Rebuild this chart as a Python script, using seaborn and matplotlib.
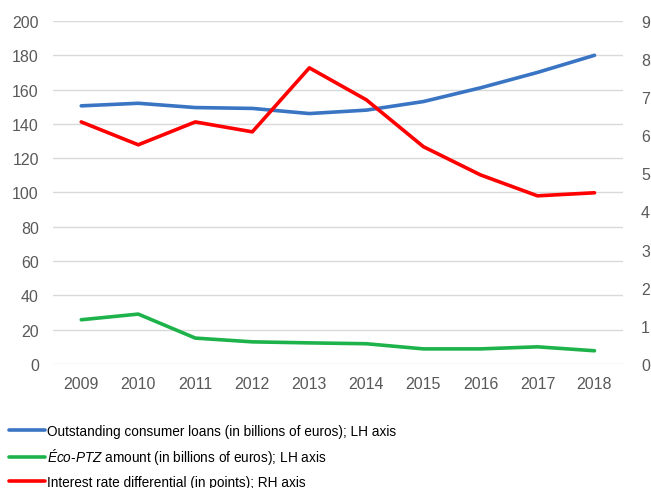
import matplotlib
matplotlib.use("Agg")
import matplotlib.pyplot as plt
import seaborn as sns
import pandas as pd

years = [2009, 2010, 2011, 2012, 2013, 2014, 2015, 2016, 2017, 2018]
consumer_loans = [150.5, 152, 149.5, 149, 146, 148, 153, 161, 170, 180]
eco_ptz = [25.7, 29, 15, 12.8, 12.2, 11.7, 8.7, 8.7, 9.9, 7.6]
rate_diff = [6.35, 5.75, 6.35, 6.09, 7.77, 6.93, 5.7, 4.96, 4.41, 4.49]

labels = [
    "Outstanding consumer loans (in billions of euros); LH axis",
    r"$\mathit{Éco}$-$\mathit{PTZ}$ amount (in billions of euros); LH axis",
    "Interest rate differential (in points); RH axis",
]
colors = ["#3a75c4", "#1db34a", "#ff0000"]

sns.set_style("white")
plt.rcParams["font.family"] = ["Liberation Sans", "DejaVu Sans"]
plt.rcParams["mathtext.fontset"] = "custom"
plt.rcParams["mathtext.it"] = "Liberation Sans:italic"
plt.rcParams["mathtext.rm"] = "Liberation Sans"

df = pd.DataFrame({"year": years, "loans": consumer_loans, "eco": eco_ptz, "rate": rate_diff})

fig = plt.figure(figsize=(6.51, 4.89), dpi=100)
ax = fig.add_axes([0.081, 0.254, 0.876, 0.701])
ax2 = ax.twinx()

sns.lineplot(data=df, x="year", y="loans", ax=ax, color=colors[0], linewidth=2.6, label=labels[0], legend=False)
sns.lineplot(data=df, x="year", y="eco", ax=ax, color=colors[1], linewidth=2.6, label=labels[1], legend=False)
sns.lineplot(data=df, x="year", y="rate", ax=ax2, color=colors[2], linewidth=2.6, label=labels[2], legend=False)

ax.set_ylim(0, 200)
ax2.set_ylim(0, 9)
ax.set_xlim(2008.5, 2018.5)
ax.set_yticks(range(0, 201, 20))
ax2.set_yticks(range(0, 10))
ax.set_xticks(years)
ax.set_xlabel("")
ax.set_ylabel("")
ax2.set_ylabel("")
ax.grid(axis="y", color="#d9d9d9", linewidth=1)
ax.set_axisbelow(True)
for a in (ax, ax2):
    for s in a.spines.values():
        s.set_visible(False)
    a.tick_params(length=0, labelsize=11.5, colors="#595959")
ax.tick_params(axis="y", pad=10)
ax2.tick_params(axis="y", pad=13)
ax.tick_params(axis="x", pad=9)

handles = ax.get_lines()[:2] + ax2.get_lines()[:1]
fig.legend(handles, labels, loc="upper left", bbox_to_anchor=(0.005, 0.142),
           frameon=False, fontsize=9.8, handlelength=2.7, handletextpad=0.1,
           labelspacing=0.62, labelcolor="#000000", borderaxespad=0)

fig.savefig("out.png", dpi=100)
